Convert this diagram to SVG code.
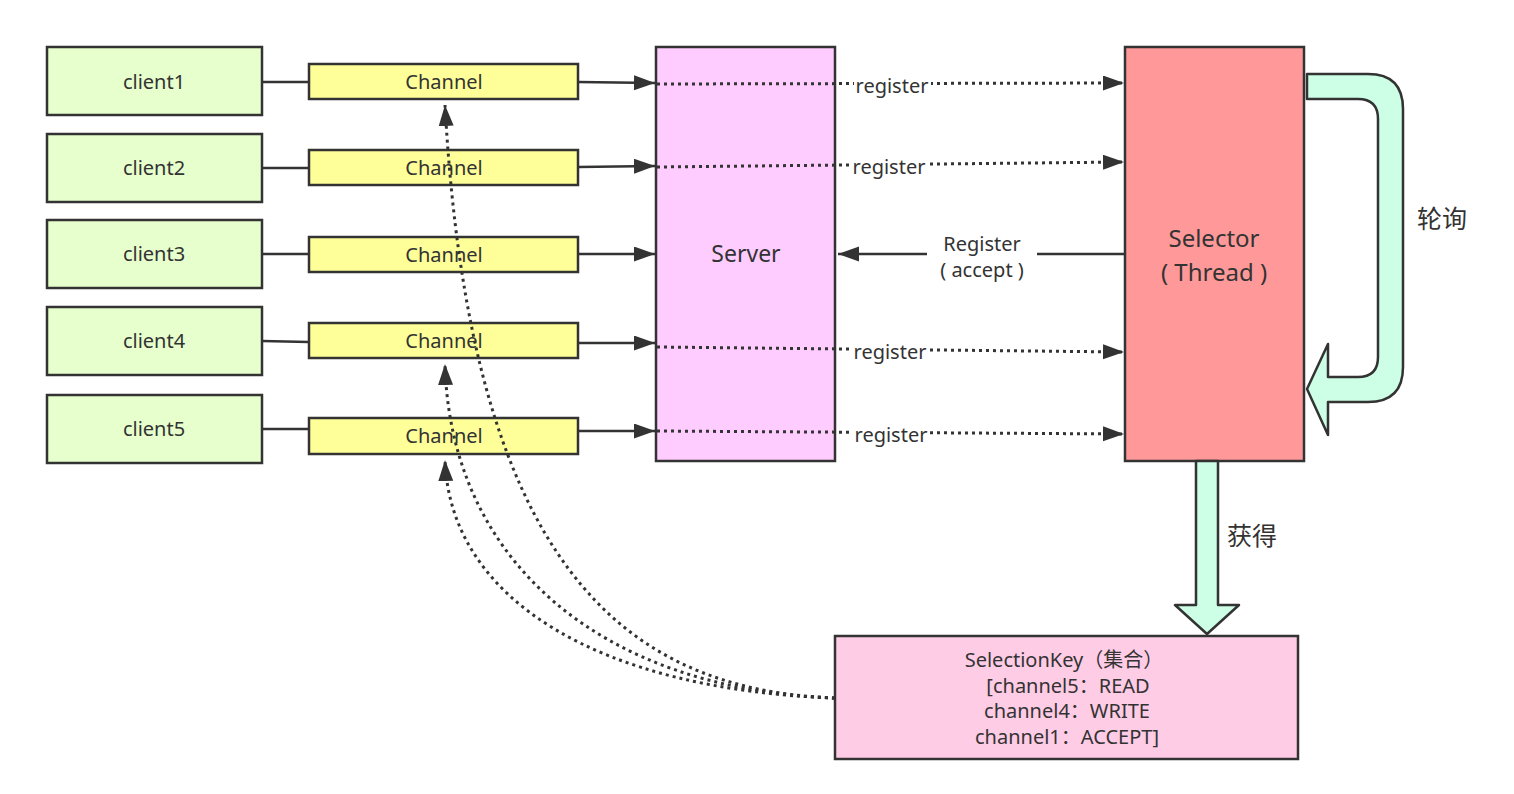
<svg xmlns="http://www.w3.org/2000/svg" width="1514" height="794" viewBox="0 0 1514 794">
  <style>
    .box { stroke: #333; stroke-width: 2.5; }
    .client { fill: #e6ffcc; }
    .channel { fill: #ffff99; }
    .server { fill: #ffccff; }
    .selector { fill: #ff9999; }
    .keyset { fill: #ffcce6; }
    .block { fill: #ccffe6; stroke: #333; stroke-width: 2.5; stroke-linejoin: round; }
    .t { font-family: "Noto Sans", "Noto Sans CJK SC", sans-serif; fill: #333; text-anchor: middle; }
    .s20 { font-size: 20px; }
    .s23 { font-size: 23px; }
    .s24 { font-size: 24px; }
    .s25 { font-size: 25px; }
    .solid { stroke: #333; stroke-width: 2.5; fill: none; }
    .dot { stroke: #333; stroke-width: 3; fill: none; stroke-dasharray: 3 4; }
    .lbl { fill: #fff; }
  </style>
  <defs>
    <marker id="head" markerUnits="userSpaceOnUse" markerWidth="22" markerHeight="16" refX="21" refY="7.5" orient="auto">
      <path d="M0,0 L21,7.5 L0,15 Z" fill="#333"/>
    </marker>
  </defs>

  <!-- clients -->
  <g id="client1"><rect class="box client" x="47" y="47" width="215" height="68"/><text class="t s20" x="154" y="89">client1</text></g>
  <g id="client2"><rect class="box client" x="47" y="134" width="215" height="68"/><text class="t s20" x="154" y="175">client2</text></g>
  <g id="client3"><rect class="box client" x="47" y="220" width="215" height="68"/><text class="t s20" x="154" y="261">client3</text></g>
  <g id="client4"><rect class="box client" x="47" y="307" width="215" height="68"/><text class="t s20" x="154" y="348">client4</text></g>
  <g id="client5"><rect class="box client" x="47" y="395" width="215" height="68"/><text class="t s20" x="154" y="436">client5</text></g>

  <!-- channels -->
  <g id="channel1"><rect class="box channel" x="309" y="64" width="269" height="35"/><text class="t s20" x="444" y="89">Channel</text></g>
  <g id="channel2"><rect class="box channel" x="309" y="150" width="269" height="35"/><text class="t s20" x="444" y="175">Channel</text></g>
  <g id="channel3"><rect class="box channel" x="309" y="237" width="269" height="35"/><text class="t s20" x="444" y="262">Channel</text></g>
  <g id="channel4"><rect class="box channel" x="309" y="323" width="269" height="35"/><text class="t s20" x="444" y="348">Channel</text></g>
  <g id="channel5"><rect class="box channel" x="309" y="418" width="269" height="36"/><text class="t s20" x="444" y="443">Channel</text></g>

  <!-- server -->
  <g id="server"><rect class="box server" x="656" y="47" width="179" height="414"/><text class="t s23" x="746" y="262">Server</text></g>

  <!-- selector -->
  <g id="selector">
    <rect class="box selector" x="1125" y="47" width="179" height="414"/>
    <text class="t s24" x="1214" y="247">Selector</text>
    <text class="t s24" x="1214" y="281">( Thread )</text>
  </g>

  <!-- selection key set -->
  <g id="selectionkey">
    <rect class="box keyset" x="835" y="636" width="463" height="123"/>
    <text class="t s20" x="1064" y="667">SelectionKey（集合）</text>
    <text class="t s20" x="1068" y="693">[channel5：READ</text>
    <text class="t s20" x="1067" y="718">channel4：WRITE</text>
    <text class="t s20" x="1067" y="744">channel1：ACCEPT]</text>
  </g>

  <!-- connectors -->
  <g id="connectors">
    <!-- client to channel -->
    <line class="solid" x1="262" y1="82" x2="309" y2="82"/>
    <line class="solid" x1="262" y1="168" x2="309" y2="168"/>
    <line class="solid" x1="262" y1="254" x2="309" y2="254"/>
    <line class="solid" x1="262" y1="341" x2="309" y2="342"/>
    <line class="solid" x1="262" y1="429" x2="309" y2="429"/>
    <!-- channel to server -->
    <line class="solid" x1="578" y1="82" x2="655" y2="83" marker-end="url(#head)"/>
    <line class="solid" x1="578" y1="167" x2="655" y2="166" marker-end="url(#head)"/>
    <line class="solid" x1="578" y1="254" x2="655" y2="254" marker-end="url(#head)"/>
    <line class="solid" x1="578" y1="343" x2="655" y2="343" marker-end="url(#head)"/>
    <line class="solid" x1="578" y1="431" x2="655" y2="431" marker-end="url(#head)"/>
    <!-- register lines from server to selector -->
    <line class="dot" x1="657" y1="84" x2="1124" y2="83" marker-end="url(#head)"/>
    <line class="dot" x1="657" y1="167" x2="1124" y2="162" marker-end="url(#head)"/>
    <line class="dot" x1="657" y1="347" x2="1124" y2="352" marker-end="url(#head)"/>
    <line class="dot" x1="657" y1="431" x2="1124" y2="434" marker-end="url(#head)"/>
    <rect class="lbl" x="854" y="74" width="77" height="22"/>
    <rect class="lbl" x="851" y="155" width="77" height="22"/>
    <rect class="lbl" x="852" y="341" width="77" height="22"/>
    <rect class="lbl" x="853" y="424" width="77" height="22"/>
    <text class="t s20" x="892" y="93">register</text>
    <text class="t s20" x="889" y="174">register</text>
    <text class="t s20" x="890" y="359">register</text>
    <text class="t s20" x="891" y="442">register</text>
    <!-- accept from selector back to server -->
    <line class="solid" x1="1125" y1="254" x2="1037" y2="254"/>
    <line class="solid" x1="927" y1="254" x2="838" y2="254" marker-end="url(#head)"/>
    <text class="t s20" x="982" y="251">Register</text>
    <text class="t s20" x="982" y="277">( accept )</text>
    <!-- selection keys pointing back to channels -->
    <path class="dot" d="M835,698 C600,690 450,600 445,460" marker-end="url(#head)"/>
    <path class="dot" d="M835,698 C600,690 450,560 445,364" marker-end="url(#head)"/>
    <path class="dot" d="M835,698 C620,690 470,560 445,105" marker-end="url(#head)"/>
    <!-- polling loop -->
    <path class="block" d="M1307,74 L1368,74 Q1403,74 1403,109 L1403,367 Q1403,402 1368,402 L1328,402 L1328,435 L1307,389 L1328,344 L1328,377 L1358,377 Q1378,377 1378,357 L1378,119 Q1378,99 1358,99 L1307,99 Z"/>
    <text class="t s25" x="1442" y="228">轮询</text>
    <!-- obtain keys -->
    <path class="block" d="M1196,461 L1218,461 L1218,605 L1239,605 L1207,634 L1175,605 L1196,605 Z"/>
    <text class="t s25" x="1252" y="545">获得</text>
  </g>
</svg>
